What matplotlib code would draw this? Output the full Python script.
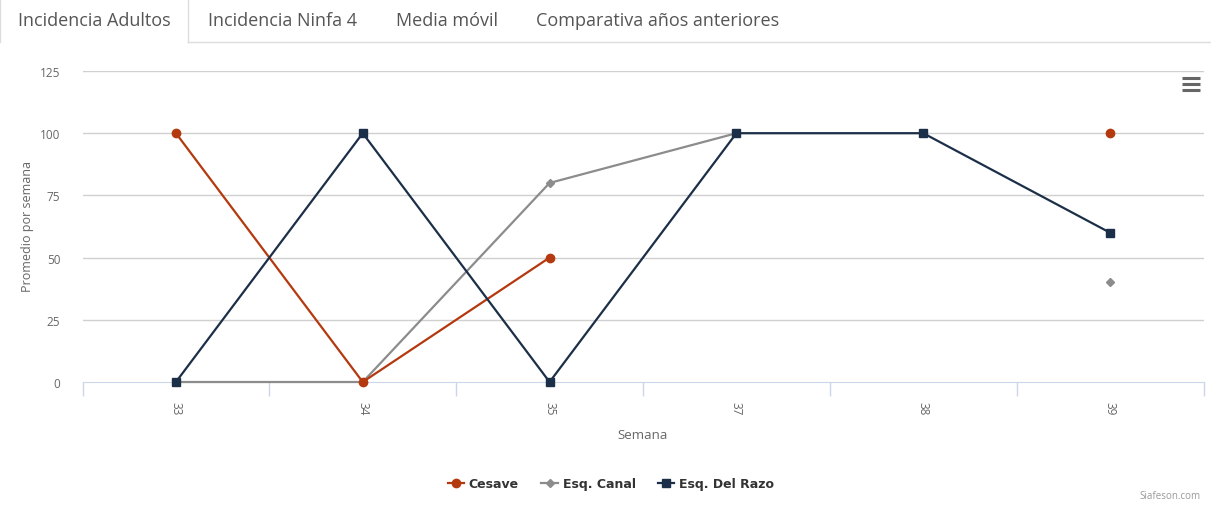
import matplotlib
matplotlib.use("Agg")
import matplotlib.pyplot as plt
from matplotlib.lines import Line2D
import numpy as np

categories = ["33", "34", "35", "37", "38", "39"]
cesave = [100, 0, 50, None, None, 100]
esq_canal = [0, 0, 80, 100, None, 40]
esq_del_razo = [0, 100, 0, 100, 100, 60]
y_ticks = [0, 25, 50, 75, 100, 125]
tabs = ["Incidencia Adultos", "Incidencia Ninfa 4", "Media móvil", "Comparativa años anteriores"]

plt.rcParams['font.family'] = ['Open Sans', 'DejaVu Sans']

W, H = 1211, 506
fig = plt.figure(figsize=(W / 100, H / 100), dpi=100)
fig.patch.set_facecolor('white')

def fx(px): return px / W
def fy(py): return 1 - py / H

# Tabs
tab_x = [18, 208, 396, 536]
for t, x in zip(tabs, tab_x):
    fig.text(fx(x), fy(21), t, fontsize=13, color='#555555', va='center', ha='left')
fig.add_artist(Line2D([fx(0), fx(0)], [fy(0), fy(43)], color='#dddddd', lw=1))
fig.add_artist(Line2D([fx(188), fx(188)], [fy(0), fy(43)], color='#dddddd', lw=1))
fig.add_artist(Line2D([fx(188), fx(1211)], [fy(43), fy(43)], color='#dddddd', lw=1))

ax = fig.add_axes([fx(82.5), fy(383), fx(1203.5) - fx(82.5), fy(72) - fy(383)])
ax.set_xlim(-0.5, len(categories) - 0.5)
ax.set_ylim(0, 125)
for s in ax.spines.values():
    s.set_visible(False)
ax.spines['bottom'].set_visible(True)
ax.spines['bottom'].set_color('#ccd6eb')

for yv in y_ticks[1:]:
    ax.axhline(yv, color='#d0d0d0', lw=1, zorder=0)

ax.set_yticks(y_ticks)
ax.set_yticklabels([str(v) for v in y_ticks])
ax.tick_params(axis='y', length=0, pad=16, labelsize=8.5, labelcolor='#666666')

x = np.arange(len(categories))
ax.set_xticks(x)
ax.set_xticklabels(categories, rotation=270)
ax.tick_params(axis='x', length=0, pad=14, labelsize=8.5, labelcolor='#666666')
ax.set_xticks(np.arange(len(categories) + 1) - 0.5, minor=True)
ax.tick_params(axis='x', which='minor', length=10, color='#ccd6eb', width=1)

def arr(v):
    return np.array([np.nan if a is None else a for a in v], dtype=float)

c_ces = '#b5390f'
c_can = '#8c8c8c'
c_raz = '#1b2f48'

ax.plot(x, arr(esq_canal), color=c_can, lw=1.6, marker='D', ms=4.5, clip_on=False, zorder=3)
ax.plot(x, arr(cesave), color=c_ces, lw=1.6, marker='o', ms=6, clip_on=False, zorder=4)
ax.plot(x, arr(esq_del_razo), color=c_raz, lw=1.6, marker='s', ms=6, clip_on=False, zorder=5)

fig.text(fx(27), fy(227), 'Promedio por semana', rotation=90, fontsize=9, color='#666666', ha='center', va='center')
fig.text(fx(643), fy(436), 'Semana', fontsize=9.5, color='#666666', ha='center', va='center')

handles = [
    Line2D([], [], color=c_ces, lw=1.6, marker='o', ms=6),
    Line2D([], [], color=c_can, lw=1.6, marker='D', ms=4.5),
    Line2D([], [], color=c_raz, lw=1.6, marker='s', ms=6),
]
leg = fig.legend(handles, ['Cesave', 'Esq. Canal', 'Esq. Del Razo'], loc='center',
                 bbox_to_anchor=(fx(611), fy(485)), ncol=3, frameon=False,
                 prop={'family': 'DejaVu Sans', 'weight': 'bold', 'size': 9},
                 handlelength=1.3, handletextpad=0.4, columnspacing=1.8)
for t in leg.get_texts():
    t.set_color('#333333')

fig.text(fx(1201), fy(497), 'Siafeson.com', fontsize=7, color='#999999', ha='right', va='center')

# menu icon
for yy in (79, 85, 91):
    fig.add_artist(Line2D([fx(1182), fx(1200)], [fy(yy), fy(yy)], color='#666666', lw=2.2, solid_capstyle='butt'))

fig.savefig('out.png', dpi=100)
